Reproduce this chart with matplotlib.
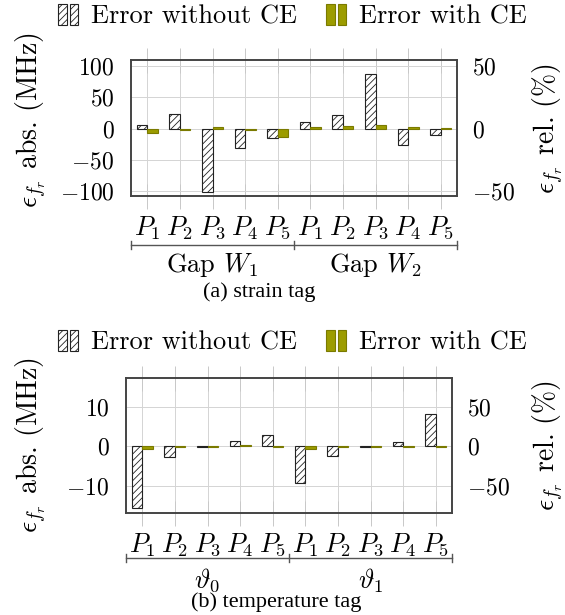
import matplotlib
matplotlib.use('Agg')

import matplotlib.pyplot as plt
import matplotlib.transforms as mtrans
from matplotlib.legend_handler import HandlerBase
from matplotlib.patches import Rectangle

plt.rcParams['font.family'] = 'cmr10'
plt.rcParams['mathtext.fontset'] = 'cm'
plt.rcParams['axes.formatter.use_mathtext'] = True
plt.rcParams['hatch.linewidth'] = 0.6

points = ['$P_1$', '$P_2$', '$P_3$', '$P_4$', '$P_5$'] * 2
groups_a = ['Gap $W_1$', 'Gap $W_2$']
groups_b = [r'$\vartheta_0$', r'$\vartheta_1$']

strain_without = [6, 23, -101, -31, -15, 10, 22, 88, -27, -11]
strain_with = [-7, -2, 2, -2, -14, 2, 4, 6, 2, 1]
temp_without = [-15.5, -2.6, -0.2, 1.4, 2.9, -9.3, -2.4, -0.2, 1.2, 8.1]
temp_with = [-0.8, -0.2, -0.2, 0.3, -0.2, -0.8, -0.2, -0.2, -0.2, -0.2]

OLIVE = '#9c9c00'
OLIVE_EDGE = '#7a7a00'


class TwoBars(HandlerBase):
    def create_artists(self, legend, orig, xd, yd, w, h, fontsize, trans):
        bw = w * 0.42
        out = []
        for x0 in (-xd, -xd + w * 0.58):
            r = Rectangle((x0, -yd - h * 0.05), bw, h * 1.1,
                          facecolor=orig.get_facecolor(),
                          edgecolor=orig.get_edgecolor(),
                          hatch=orig.get_hatch(), lw=0.8, transform=trans)
            out.append(r)
        return out


def panel(ax, without, with_, ylim, yticks, factor, rticks, groups, pos):
    x = list(range(len(points)))
    ax.bar([v - 0.16 for v in x], without, width=0.32, facecolor='white',
           edgecolor='#222222', hatch='/////', lw=0.8, zorder=3)
    ax.bar([v + 0.16 for v in x], with_, width=0.32, facecolor=OLIVE,
           edgecolor=OLIVE_EDGE, lw=0.8, zorder=3)
    ax.set_xlim(-0.5, len(points) - 0.5)
    ax.set_ylim(*ylim)
    ax.set_yticks(yticks)
    ax.set_xticks(x)
    ax.set_xticklabels(points, fontsize=19)
    ax.grid(True, color='#d4d4d4', lw=0.7, zorder=0)
    ax.tick_params(axis='x', direction='inout', length=18, width=0.7,
                   color='#c8c8c8', pad=4, top=True)
    ax.tick_params(axis='y', direction='in', length=0, labelsize=17, pad=12)
    for s in ax.spines.values():
        s.set_color('#444444')
        s.set_linewidth(1.2)
    ax.set_ylabel(r'$\epsilon_{f_r}$ abs. (MHz)', fontsize=20, va='center')
    ax.yaxis.set_label_coords(pos['lx'], pos['ly'])

    ax2 = ax.twinx()
    ax2.set_ylim(ylim[0] * factor, ylim[1] * factor)
    ax2.set_yticks(rticks)
    ax2.tick_params(axis='y', direction='in', length=0, labelsize=17, pad=11)
    for s in ax2.spines.values():
        s.set_color('#444444')
        s.set_linewidth(1.2)
    ax2.set_ylabel(r'$\epsilon_{f_r}$ rel. (%)', fontsize=20, va='center')
    ax2.yaxis.set_label_coords(pos['rx'], 0.5)

    # group bracket below the point labels
    tr = mtrans.blended_transform_factory(ax.transData, ax.transAxes)
    n = len(points) // len(groups)
    yb = pos['yb']
    edges = [i * n - 0.5 for i in range(len(groups) + 1)]
    ax.plot([edges[0], edges[-1]], [yb, yb], transform=tr, clip_on=False,
            color='#555555', lw=1.0)
    for e in edges:
        ax.plot([e, e], [yb - 0.03, yb + 0.03], transform=tr, clip_on=False,
                color='#555555', lw=1.0)
    for i, g in enumerate(groups):
        ax.text(i * n + (n - 1) / 2, pos['yg'], g, transform=tr,
                ha='center', va='center', fontsize=19)


W, H = 565, 615
fig = plt.figure(figsize=(W / 100, H / 100), dpi=100)

ax_a = fig.add_axes([131 / W, 1 - 196 / H, 326 / W, 136 / H])
panel(ax_a, strain_without, strain_with, (-108, 110), [-100, -50, 0, 50, 100],
      0.5, [-50, 0, 50], groups_a,
      dict(lx=-0.305, ly=0.56, rx=1.28, yb=-0.36, yg=-0.505))

ax_b = fig.add_axes([126 / W, 1 - 513 / H, 326 / W, 135 / H])
panel(ax_b, temp_without, temp_with, (-16.8, 17.2), [-10, 0, 10],
      5, [-50, 0, 50], groups_b,
      dict(lx=-0.29, ly=0.5, rx=1.295, yb=-0.333, yg=-0.5))

handles = [Rectangle((0, 0), 1, 1, facecolor='white', edgecolor='#222222',
                     hatch='/////'),
           Rectangle((0, 0), 1, 1, facecolor=OLIVE, edgecolor=OLIVE_EDGE)]
labels = ['Error without CE', 'Error with CE']
for yy in (1 - 17 / H, 1 - 343 / H):
    fig.legend(handles, labels, loc='center', bbox_to_anchor=(0.518, yy),
               ncol=2, frameon=False, fontsize=19, handlelength=0.75,
               handletextpad=0.5, columnspacing=1.1,
               handler_map={Rectangle: TwoBars()})

fig.text(259 / W, 1 - 292 / H, '(a) strain tag', ha='center', va='center',
         family='Liberation Serif', fontsize=16)
fig.text(276 / W, 1 - 602 / H, '(b) temperature tag', ha='center',
         va='center', family='Liberation Serif', fontsize=16)

fig.savefig('out.png', dpi=100)
